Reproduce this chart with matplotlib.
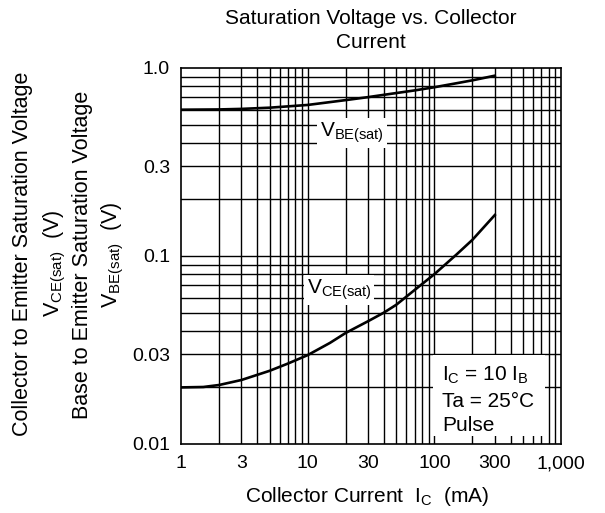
import matplotlib
matplotlib.use("Agg")
import matplotlib.pyplot as plt
from matplotlib.ticker import FixedLocator, NullLocator, NullFormatter

plt.rcParams['font.family'] = ['Liberation Sans', 'DejaVu Sans']
plt.rcParams['mathtext.fontset'] = 'custom'
plt.rcParams['mathtext.rm'] = 'Liberation Sans'
plt.rcParams['mathtext.it'] = 'Liberation Sans:italic'

# --- data ---
ic_vbe = [1, 2, 3, 5, 10, 20, 30, 40, 70, 100, 150, 200, 300]
vbe = [0.600, 0.602, 0.606, 0.615, 0.636, 0.675, 0.70, 0.72, 0.76, 0.79, 0.83, 0.86, 0.91]

ic_vce = [1, 1.5, 2, 3, 5, 7, 10, 15, 20, 30, 40, 50, 70, 100, 150, 200, 300]
vce = [0.0200, 0.0201, 0.0206, 0.0219, 0.0245, 0.0268, 0.0297, 0.0345, 0.039, 0.045,
       0.050, 0.055, 0.066, 0.080, 0.102, 0.122, 0.165]

x_ticks = [1, 3, 10, 30, 100, 300, 1000]
x_labels = ["1", "3", "10", "30", "100", "300", "1,000"]
y_ticks = [0.01, 0.03, 0.1, 0.3, 1.0]
y_labels = ["0.01", "0.03", "0.1", "0.3", "1.0"]

FS = 15
W, H = 605, 513
fig = plt.figure(figsize=(W / 100, H / 100), dpi=100)
ax = fig.add_axes([181 / W, 1 - 444 / H, 380 / W, 376 / H])

ax.set_xscale('log')
ax.set_yscale('log')
ax.set_xlim(1, 1000)
ax.set_ylim(0.01, 1.0)

# grid at every integer step within each decade
xgrid = [m * 10 ** d for d in range(0, 3) for m in range(2, 10)] + [10, 100]
ygrid = [m * 10 ** d for d in range(-2, 0) for m in range(2, 10)] + [0.1]
for xv in xgrid:
    ax.axvline(xv, color='black', lw=1.0, zorder=1)
for yv in ygrid:
    ax.axhline(yv, color='black', lw=1.0, zorder=1)

ax.plot(ic_vbe, vbe, color='black', lw=1.9, zorder=3)
ax.plot(ic_vce, vce, color='black', lw=1.9, zorder=3)

ax.xaxis.set_major_locator(FixedLocator(x_ticks))
ax.set_xticklabels(x_labels)
ax.yaxis.set_major_locator(FixedLocator(y_ticks))
ax.set_yticklabels(y_labels)
ax.xaxis.set_minor_locator(NullLocator())
ax.yaxis.set_minor_locator(NullLocator())
ax.xaxis.set_minor_formatter(NullFormatter())
ax.yaxis.set_minor_formatter(NullFormatter())
ax.tick_params(length=0, labelsize=14, pad=8)

for s in ax.spines.values():
    s.set_linewidth(1.2)

box = dict(fc='white', ec='none', pad=2)
ax.text(22.4, 0.45, r"$\mathregular{V_{BE(sat)}}$", fontsize=FS,
        ha='center', va='center', bbox=box, zorder=4)
ax.text(17.7, 0.066, r"$\mathregular{V_{CE(sat)}}$", fontsize=FS,
        ha='center', va='center', bbox=box, zorder=4)

ax.add_patch(plt.Rectangle((0.663, 0.02), 0.295, 0.217, transform=ax.transAxes,
                           fc='white', ec='none', zorder=2))
ax.text(0.687, 0.183, r"$\mathregular{I_C}$ = 10 $\mathregular{I_B}$", transform=ax.transAxes,
        fontsize=FS, ha='left', va='center', zorder=4)
ax.text(0.687, 0.112, "Ta = 25°C", transform=ax.transAxes,
        fontsize=FS, ha='left', va='center', zorder=4)
ax.text(0.687, 0.050, "Pulse", transform=ax.transAxes,
        fontsize=FS, ha='left', va='center', zorder=4)

fig.text(371 / W, 1 - 18 / H, "Saturation Voltage vs. Collector", fontsize=FS,
         ha='center', va='center')
fig.text(371 / W, 1 - 42 / H, "Current", fontsize=FS, ha='center', va='center')

fig.text(367 / W, 1 - 496 / H, r"Collector Current  $\mathregular{I_C}$  (mA)",
         fontsize=FS, ha='center', va='center')

YFS = 15.5
fig.text(23 / W, 1 - 254 / H, "Collector to Emitter Saturation Voltage",
         fontsize=YFS, rotation=90, ha='center', va='center')
fig.text(55 / W, 1 - 263 / H, r"$\mathregular{V_{CE(sat)}}$  (V)",
         fontsize=YFS, rotation=90, ha='center', va='center')
fig.text(83 / W, 1 - 255 / H, "Base to Emitter Saturation Voltage",
         fontsize=YFS, rotation=90, ha='center', va='center')
fig.text(113 / W, 1 - 255 / H, r"$\mathregular{V_{BE(sat)}}$  (V)",
         fontsize=YFS, rotation=90, ha='center', va='center')

fig.savefig("out.png", dpi=100)
